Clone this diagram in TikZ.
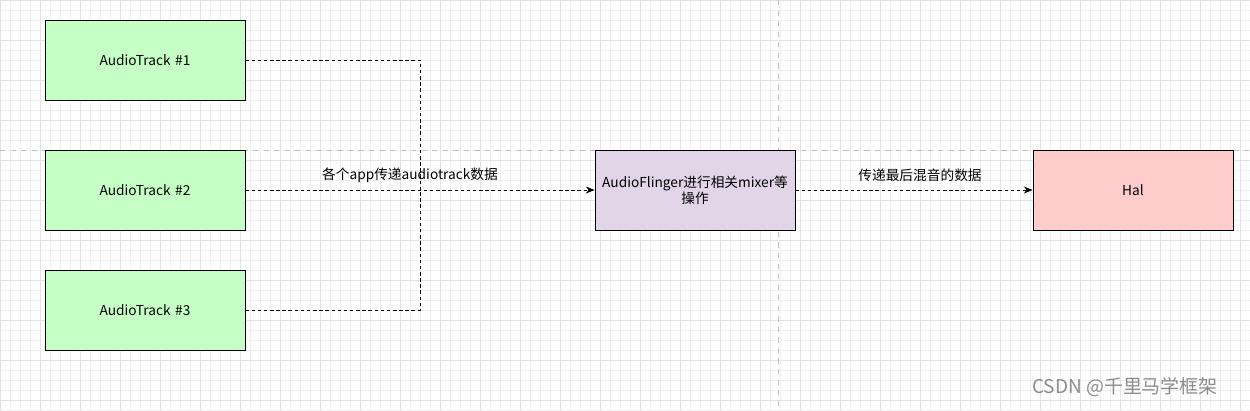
\documentclass[tikz,border=0pt]{standalone}
\usepackage{fontspec}
\setmainfont{Noto Sans CJK SC}
\usetikzlibrary{arrows.meta}
\definecolor{gA}{HTML}{C6FFC6}
\definecolor{pA}{HTML}{E1D5E7}
\definecolor{rA}{HTML}{FFCCCC}
\begin{document}
\begin{tikzpicture}[x=0.02cm,y=-0.02cm,
  box/.style={draw=black,line width=0.5pt,minimum width=4cm,minimum height=1.6cm,font=\fontsize{7.8}{9}\selectfont,align=center,text width=3.9cm,inner sep=0pt},
  conn/.style={dashed,line width=0.5pt,dash pattern=on 2pt off 1.5pt},
  lab/.style={font=\fontsize{7.8}{9}\selectfont}]
\fill[white] (0,0) rectangle (1250,410);
\useasboundingbox (0,0) rectangle (1250,410);
\foreach \x in {0,10,...,1250} \draw[black!6,line width=0.3pt] (\x,0) -- (\x,410);
\foreach \y in {0,10,...,410} \draw[black!6,line width=0.3pt] (0,\y) -- (1250,\y);
\foreach \x in {0,40,...,1250} \draw[black!11,line width=0.3pt] (\x,0) -- (\x,410);
\foreach \y in {0,40,...,410} \draw[black!11,line width=0.3pt] (0,\y) -- (1250,\y);
\draw[black!25,dashed,line width=0.3pt] (778,0) -- (778,410);
\draw[black!25,dashed,line width=0.3pt] (0,150) -- (1250,150);
\node[box,fill=gA] (t1) at (145,60) {AudioTrack \#1};
\node[box,fill=gA] (t2) at (145,190) {AudioTrack \#2};
\node[box,fill=gA] (t3) at (145,310) {AudioTrack \#3};
\node[box,fill=pA] (af) at (695,190) {AudioFlinger进行相关mixer等\\操作};
\node[box,fill=rA] (hal) at (1133,190) {Hal};
\coordinate (j) at (420,190);
\draw[conn] (t1.east) -| (j);
\draw[conn] (t3.east) -| (j);
\draw[conn,-{Stealth[length=5pt,width=4pt]}] (t2.east) -- (af.west);
\draw[conn,-{Stealth[length=5pt,width=4pt]}] (af.east) -- (hal.west);
\node[lab] (l1) at (410,175) {各个app传递audiotrack数据};
\node[lab] (l2) at (920,175) {传递最后混音的数据};
\node[font=\fontsize{10.8}{12}\selectfont,text=black!45] (wm) at (1125,387) {CSDN @千里马学框架};
\end{tikzpicture}
\end{document}
